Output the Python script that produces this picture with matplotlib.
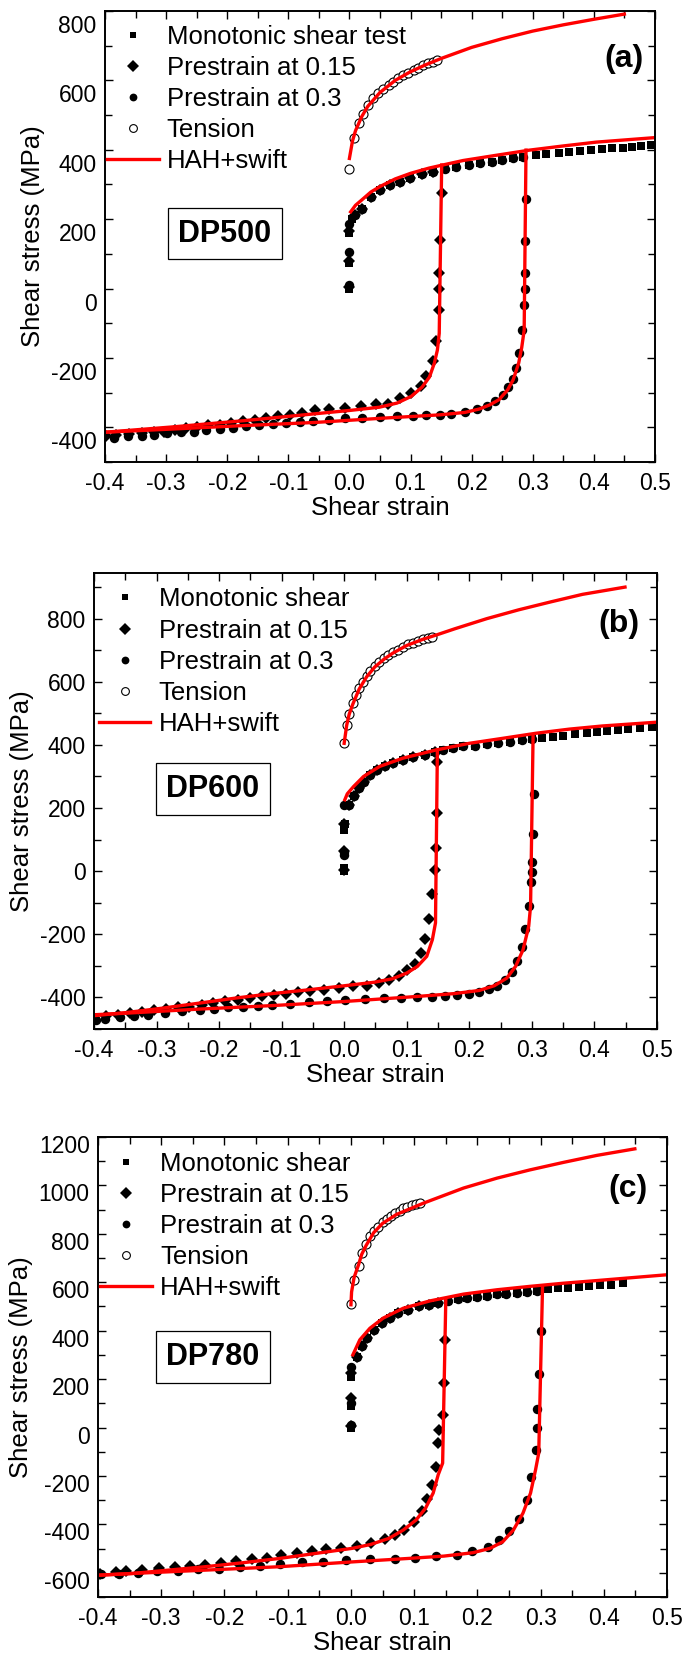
import matplotlib
matplotlib.use("Agg")
import matplotlib.pyplot as plt
from matplotlib.lines import Line2D
from matplotlib.ticker import MultipleLocator, FormatStrFormatter
from matplotlib.transforms import ScaledTranslation

plt.rcParams['font.family'] = ['Liberation Sans', 'DejaVu Sans']
plt.rcParams['axes.unicode_minus'] = False

# ---------------- DP500 ----------------
a_fwd_x = [0.009, 0.020, 0.036, 0.050, 0.066, 0.083, 0.099, 0.118, 0.137, 0.156, 0.175, 0.195,
           0.214, 0.233, 0.249, 0.268, 0.284]
a_fwd_y = [212, 228, 265, 284, 298, 308, 318, 330, 337, 344, 349, 355, 361, 366, 370, 375, 380]

a_mono_x = [0.0, 0.0, 0.0, 0.004] + a_fwd_x + [0.306, 0.322, 0.343, 0.360, 0.378, 0.396, 0.413,
                                                0.429, 0.447, 0.463, 0.478, 0.493]
a_mono_y = [0, 75, 160, 200] + a_fwd_y + [384, 388, 392, 394, 397, 400, 401, 404, 406, 409, 411, 414]

a_pre15_x = [0.0, 0.0, 0.0] + a_fwd_x[:9] + [
    0.151, 0.149, 0.147, 0.147, 0.147, 0.142, 0.136, 0.126, 0.117, 0.101, 0.083, 0.063, 0.043,
    0.019, -0.007, -0.033, -0.057, -0.077, -0.097, -0.117, -0.136, -0.155, -0.174, -0.193,
    -0.212, -0.232, -0.250, -0.268, -0.286, -0.304, -0.320, -0.339, -0.361, -0.382, -0.398]
a_pre15_y = [5, 80, 165] + a_fwd_y[:9] + [
    276, 140, 44, -2, -63, -150, -210, -251, -282, -301, -316, -332, -333,
    -338, -344, -347, -351, -359, -364, -366, -373, -378, -383, -388,
    -392, -394, -399, -402, -407, -412, -413, -416, -418, -423, -426]

a_pre30_x = [0.0, 0.0, 0.0] + a_fwd_x + [
    0.289, 0.288, 0.287, 0.287, 0.285, 0.283, 0.278, 0.273, 0.268, 0.259, 0.251, 0.239, 0.225,
    0.208, 0.189, 0.167, 0.148, 0.126, 0.104, 0.078, 0.050, 0.021, -0.007, -0.033, -0.059,
    -0.081, -0.103, -0.125, -0.148, -0.169, -0.191, -0.212, -0.234, -0.255, -0.276, -0.298,
    -0.319, -0.340, -0.362, -0.385]
a_pre30_y = [10, 105, 185] + a_fwd_y + [
    257, 138, 44, -2, -47, -119, -186, -229, -261, -284, -306, -325, -338,
    -347, -355, -361, -364, -365, -366, -368, -370, -372, -374, -378, -382,
    -385, -388, -389, -393, -397, -401, -405, -409, -412, -414, -416,
    -421, -424, -426, -431]

a_ten_x = [0.0, 0.007, 0.016, 0.023, 0.031, 0.039, 0.047, 0.055, 0.064, 0.072, 0.080, 0.088,
           0.096, 0.105, 0.113, 0.121, 0.129, 0.137, 0.144]
a_ten_y = [344, 433, 476, 503, 529, 548, 563, 574, 586, 596, 606, 615, 622, 630, 637, 643, 649,
           654, 659]

a_fit_ten_x = [0.0, 0.005, 0.01, 0.02, 0.03, 0.05, 0.075, 0.1, 0.125, 0.15, 0.2, 0.25, 0.3, 0.35,
               0.4, 0.45]
a_fit_ten_y = [375, 425, 455, 495, 525, 565, 600, 625, 645, 663, 695, 720, 742, 760, 776, 791]
a_fit_mono_x = [0.002, 0.01, 0.02, 0.035, 0.05, 0.075, 0.1, 0.13, 0.15, 0.186, 0.24, 0.295,
                0.35, 0.404, 0.5]
a_fit_mono_y = [221, 240, 255, 278, 294, 316, 332, 347, 355, 369, 384, 399, 411, 422, 435]
a_fit_r15_x = [0.151, 0.147, 0.144, 0.139, 0.131, 0.119, 0.101, 0.078, 0.049, 0.002, -0.057,
               -0.174, -0.291, -0.399]
a_fit_r15_y = [356, -129, -177, -215, -255, -284, -311, -330, -342, -351, -361, -381, -399, -414]
a_fit_r30_x = [0.289, 0.286, 0.282, 0.277, 0.268, 0.259, 0.245, 0.230, 0.213, 0.189, 0.148,
               0.060, -0.057, -0.174, -0.291, -0.399]
a_fit_r30_y = [399, -120, -170, -215, -263, -292, -320, -335, -347, -357, -364, -373, -386,
               -395, -405, -414]

# ---------------- DP600 ----------------
b_fwd_x = [0.007, 0.015, 0.023, 0.031, 0.041, 0.052, 0.065, 0.078, 0.094, 0.110, 0.129, 0.145,
           0.158, 0.174, 0.190, 0.209, 0.228, 0.246, 0.265, 0.284, 0.300]
b_fwd_y = [211, 237, 263, 284, 305, 321, 332, 342, 353, 361, 368, 376, 384, 390, 395, 398, 403,
           405, 410, 414, 418]

b_mono_x = [0.0, 0.0, 0.0, 0.002] + b_fwd_x + [0.316, 0.334, 0.350, 0.369, 0.388, 0.404, 0.420,
                                                0.438, 0.454, 0.473, 0.492]
b_mono_y = [0, 10, 130, 150] + b_fwd_y + [421, 426, 429, 434, 437, 440, 444, 447, 451, 455, 458]

b_pre15_x = [0.0, 0.0, 0.0] + b_fwd_x[:12] + [
    0.148, 0.148, 0.147, 0.146, 0.141, 0.136, 0.130, 0.123, 0.113, 0.100, 0.088, 0.072, 0.055,
    0.036, 0.014, -0.009, -0.032, -0.054, -0.074, -0.093, -0.112, -0.131, -0.151, -0.170,
    -0.190, -0.209, -0.228, -0.248, -0.266, -0.285, -0.304, -0.323, -0.342, -0.362, -0.381,
    -0.400]
b_pre15_y = [5, 65, 150] + b_fwd_y[:12] + [
    347, 183, 72, 3, -72, -151, -215, -259, -293, -312, -333, -346, -354,
    -363, -365, -370, -376, -381, -384, -388, -392, -397, -402, -407,
    -413, -418, -423, -429, -432, -437, -441, -447, -450, -455, -460,
    -466]

b_pre30_x = [0.0, 0.0, 0.0] + b_fwd_x + [
    0.303, 0.302, 0.300, 0.300, 0.299, 0.295, 0.289, 0.285, 0.277, 0.269, 0.257, 0.244, 0.231,
    0.215, 0.199, 0.181, 0.161, 0.141, 0.117, 0.091, 0.064, 0.033, 0.001, -0.028, -0.057,
    -0.086, -0.115, -0.138, -0.162, -0.185, -0.208, -0.231, -0.260, -0.287, -0.313, -0.336,
    -0.359, -0.383, -0.397]
b_pre30_y = [50, 60, 210] + b_fwd_y + [
    243, 118, 30, -2, -35, -111, -183, -240, -286, -321, -344, -363, -374,
    -383, -388, -392, -397, -399, -400, -402, -402, -405, -407, -413, -416,
    -420, -423, -426, -429, -432, -436, -439, -444, -450, -455, -458,
    -462, -469, -473]

b_ten_x = [0.0, 0.004, 0.008, 0.014, 0.019, 0.024, 0.030, 0.036, 0.042, 0.049, 0.056, 0.064,
           0.070, 0.078, 0.086, 0.094, 0.102, 0.110, 0.118, 0.126, 0.134, 0.141]
b_ten_y = [407, 463, 498, 532, 558, 579, 600, 618, 635, 650, 663, 674, 684, 693, 702, 711, 719,
           724, 730, 735, 739, 742]

b_fit_ten_x = [0.0, 0.004, 0.008, 0.014, 0.024, 0.036, 0.049, 0.064, 0.078, 0.1, 0.125, 0.15,
               0.177, 0.228, 0.279, 0.33, 0.381, 0.449]
b_fit_ten_y = [405, 462, 497, 530, 577, 616, 647, 672, 691, 715, 734, 750, 768, 800, 828, 853,
               877, 900]
b_fit_mono_x = [0.001, 0.005, 0.015, 0.031, 0.057, 0.094, 0.147, 0.200, 0.254, 0.307, 0.360,
                0.413, 0.5]
b_fit_mono_y = [226, 245, 268, 300, 332, 358, 384, 405, 421, 437, 450, 460, 472]
b_fit_r15_x = [0.149, 0.146, 0.141, 0.132, 0.117, 0.100, 0.077, 0.048, 0.001, -0.057, -0.115,
               -0.173, -0.231, -0.290, -0.348, -0.400]
b_fit_r15_y = [384, -164, -217, -270, -302, -323, -341, -352, -363, -376, -388, -402, -418,
               -434, -448, -458]
b_fit_r30_x = [0.302, 0.298, 0.295, 0.286, 0.274, 0.260, 0.240, 0.216, 0.176, 0.117, 0.059,
               0.001, -0.115, -0.231, -0.348, -0.400]
b_fit_r30_y = [426, -111, -175, -249, -302, -339, -363, -378, -388, -397, -405, -413, -426,
               -437, -450, -455]

# ---------------- DP780 ----------------
c_fwd_x = [0.009, 0.017, 0.025, 0.036, 0.049, 0.062, 0.075, 0.091, 0.107, 0.123, 0.138, 0.154,
           0.170, 0.183, 0.199, 0.215, 0.231, 0.246, 0.262, 0.278, 0.294]
c_fwd_y = [293, 335, 369, 404, 431, 452, 472, 486, 500, 507, 514, 523, 530, 534, 541, 545, 551,
           552, 555, 559, 562]

c_mono_x = [0.0, 0.0, 0.0] + c_fwd_x + [0.312, 0.328, 0.344, 0.360, 0.376, 0.394, 0.412, 0.431]
c_mono_y = [0, 90, 210] + c_fwd_y + [573, 576, 578, 580, 583, 587, 589, 598]

c_pre15_x = [0.0, 0.0, 0.0] + c_fwd_x[:11] + [
    0.149, 0.147, 0.145, 0.140, 0.138, 0.134, 0.128, 0.121, 0.112, 0.099, 0.084, 0.069, 0.054,
    0.032, 0.009, -0.016, -0.039, -0.062, -0.086, -0.110, -0.133, -0.156, -0.181, -0.206,
    -0.231, -0.255, -0.279, -0.303, -0.331, -0.355, -0.372, -0.397]
c_pre15_y = [5, 120, 225] + c_fwd_y[:11] + [
    362, 183, 52, -9, -65, -163, -236, -296, -343, -389, -423, -444, -462,
    -478, -490, -496, -503, -511, -519, -526, -537, -543, -552, -561,
    -567, -570, -577, -582, -589, -594, -598, -603]

c_pre30_x = [0.0, 0.0, 0.0] + c_fwd_x + [
    0.300, 0.298, 0.295, 0.294, 0.292, 0.285, 0.278, 0.265, 0.250, 0.234, 0.216, 0.192, 0.167,
    0.135, 0.102, 0.069, 0.030, -0.008, -0.044, -0.077, -0.112, -0.144, -0.175, -0.209,
    -0.242, -0.274, -0.306, -0.336, -0.367, -0.396]
c_pre30_y = [10, 100, 250] + c_fwd_y + [
    399, 220, 77, -2, -91, -205, -301, -376, -427, -465, -492, -510, -527,
    -531, -538, -541, -545, -548, -555, -555, -564, -571, -575, -585,
    -586, -592, -593, -600, -606, -606]

c_ten_x = [0.0, 0.005, 0.012, 0.017, 0.024, 0.030, 0.036, 0.043, 0.050, 0.057, 0.064, 0.070,
           0.077, 0.083, 0.089, 0.096, 0.103, 0.109]
c_ten_y = [510, 610, 668, 720, 757, 789, 810, 830, 848, 862, 874, 885, 895, 906, 910, 917, 923,
           927]

c_fit_ten_x = [0.0, 0.001, 0.005, 0.012, 0.017, 0.024, 0.036, 0.050, 0.072, 0.115, 0.178, 0.231,
               0.283, 0.336, 0.389, 0.449]
c_fit_ten_y = [507, 560, 620, 672, 715, 752, 805, 843, 880, 927, 989, 1030, 1064, 1095, 1124,
               1151]
c_fit_mono_x = [0.003, 0.014, 0.030, 0.051, 0.083, 0.125, 0.178, 0.231, 0.283, 0.336, 0.389, 0.5]
c_fit_mono_y = [300, 362, 410, 452, 493, 523, 551, 569, 583, 596, 607, 631]
c_fit_r15_x = [0.150, 0.145, 0.138, 0.130, 0.118, 0.103, 0.083, 0.060, 0.031, 0.002, -0.056,
               -0.114, -0.173, -0.231, -0.289, -0.347, -0.400]
c_fit_r15_y = [528, -147, -195, -271, -333, -382, -423, -458, -483, -499, -520, -541, -559,
               -575, -589, -603, -610]
c_fit_r30_x = [0.303, 0.297, 0.292, 0.284, 0.272, 0.257, 0.240, 0.220, 0.193, 0.147, 0.089,
               0.002, -0.114, -0.231, -0.347, -0.400]
c_fit_r30_y = [583, -105, -174, -271, -354, -423, -472, -499, -517, -531, -541, -555, -575,
               -589, -603, -610]

RED = '#ff0000'


def draw_panel(ax, mono, pre15, pre30, ten, fits, ylim, tag, grade, mono_label,
               tag_pos, grade_pos, leg_anchor, ylab_shift):
    ax.plot(*mono, ls='none', marker='s', ms=5.5, color='black', mew=0)
    ax.plot(*pre15, ls='none', marker='D', ms=6.5, color='black', mew=0)
    ax.plot(*pre30, ls='none', marker='o', ms=6.8, color='black', mew=0)
    ax.plot(*ten, ls='none', marker='o', ms=6.5, mfc='white', mec='black', mew=0.8)
    for fx, fy in fits:
        ax.plot(fx, fy, color=RED, lw=2.4)

    ax.set_xlim(-0.4, 0.5)
    ax.set_ylim(*ylim)
    ax.xaxis.set_major_locator(MultipleLocator(0.1))
    ax.xaxis.set_minor_locator(MultipleLocator(0.05))
    ax.xaxis.set_major_formatter(FormatStrFormatter('%.1f'))
    ax.yaxis.set_major_locator(MultipleLocator(200))
    ax.yaxis.set_minor_locator(MultipleLocator(100))
    ax.tick_params(which='both', direction='in', top=True, right=True, width=1.0,
                   labelsize=16.5)
    ax.tick_params(axis='x', pad=7)
    ax.tick_params(axis='y', pad=6)
    ax.tick_params(which='major', length=5.5)
    ax.tick_params(which='minor', length=5)
    for sp in ax.spines.values():
        sp.set_linewidth(1.4)

    # y tick labels sit a little below their ticks in some panels
    shift = ScaledTranslation(0, -ylab_shift / 100, ax.figure.dpi_scale_trans)
    for lab in ax.get_yticklabels():
        lab.set_transform(lab.get_transform() + shift)

    ax.set_xlabel('Shear strain', fontsize=18.5, labelpad=1)
    ax.set_ylabel('Shear stress (MPa)', fontsize=18.5, labelpad=4)

    handles = [
        Line2D([], [], ls='none', marker='s', ms=4.8, color='black', mew=0),
        Line2D([], [], ls='none', marker='D', ms=6, color='black', mew=0),
        Line2D([], [], ls='none', marker='o', ms=5.6, color='black', mew=0),
        Line2D([], [], ls='none', marker='o', ms=5.6, mfc='white', mec='black', mew=0.8),
        Line2D([], [], color=RED, lw=2.4),
    ]
    labels = [mono_label, 'Prestrain at 0.15', 'Prestrain at 0.3', 'Tension', 'HAH+swift']
    ax.legend(handles, labels, loc='upper left', bbox_to_anchor=leg_anchor, frameon=False,
              fontsize=18.5, handlelength=2.0, handletextpad=0.32, labelspacing=0.28,
              borderpad=0, borderaxespad=0, numpoints=1)

    ax.text(*tag_pos, tag, transform=ax.transAxes, fontsize=23, fontweight='bold',
            ha='center', va='center')
    ax.text(*grade_pos, grade, transform=ax.transAxes, fontsize=22, fontweight='bold',
            ha='center', va='center',
            bbox=dict(boxstyle='square,pad=0.35', fc='white', ec='black', lw=0.9))


fig = plt.figure(figsize=(6.84, 16.62), dpi=100)

ax_a = fig.add_axes([0.1535, 0.722, 0.804, 0.2714])
draw_panel(ax_a, (a_mono_x, a_mono_y), (a_pre15_x, a_pre15_y), (a_pre30_x, a_pre30_y),
           (a_ten_x, a_ten_y),
           [(a_fit_ten_x, a_fit_ten_y), (a_fit_mono_x, a_fit_mono_y),
            (a_fit_r15_x, a_fit_r15_y), (a_fit_r30_x, a_fit_r30_y)],
           (-500, 800), '(a)', 'DP500', 'Monotonic shear test',
           (0.944, 0.894), (0.218, 0.506), (0.004, 0.970), 13)

ax_b = fig.add_axes([0.1374, 0.3809, 0.823, 0.2744])
draw_panel(ax_b, (b_mono_x, b_mono_y), (b_pre15_x, b_pre15_y), (b_pre30_x, b_pre30_y),
           (b_ten_x, b_ten_y),
           [(b_fit_ten_x, b_fit_ten_y), (b_fit_mono_x, b_fit_mono_y),
            (b_fit_r15_x, b_fit_r15_y), (b_fit_r30_x, b_fit_r30_y)],
           (-500, 945), '(b)', 'DP600', 'Monotonic shear',
           (0.932, 0.887), (0.211, 0.526), (0.009, 0.968), 0)

ax_c = fig.add_axes([0.1433, 0.0391, 0.832, 0.2768])
draw_panel(ax_c, (c_mono_x, c_mono_y), (c_pre15_x, c_pre15_y), (c_pre30_x, c_pre30_y),
           (c_ten_x, c_ten_y),
           [(c_fit_ten_x, c_fit_ten_y), (c_fit_mono_x, c_fit_mono_y),
            (c_fit_r15_x, c_fit_r15_y), (c_fit_r30_x, c_fit_r30_y)],
           (-700, 1200), '(c)', 'DP780', 'Monotonic shear',
           (0.931, 0.886), (0.202, 0.522), (0.004, 0.968), 7)

fig.savefig('out.png', dpi=100)
